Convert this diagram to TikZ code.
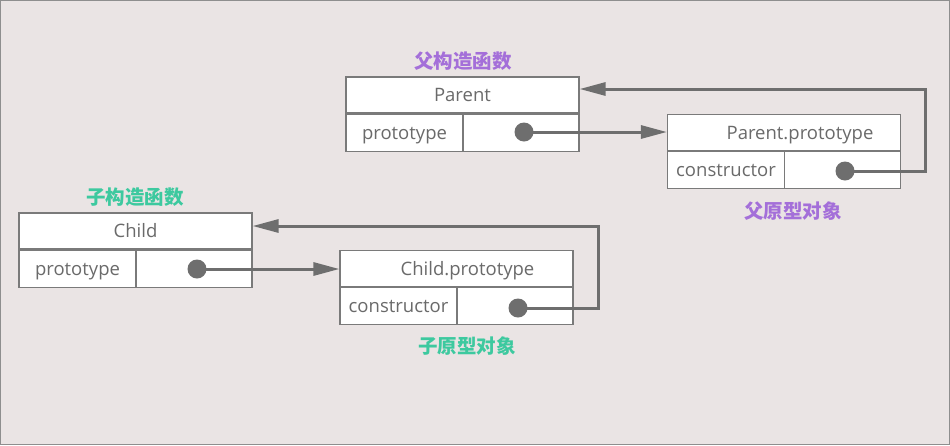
\documentclass[tikz,border=0pt]{standalone}
\usepackage{fontspec}
\setmainfont{Open Sans}
\newfontfamily\cjk{Noto Sans CJK SC}
\usetikzlibrary{arrows.meta,positioning}
\definecolor{bgcol}{HTML}{EAE4E4}
\definecolor{framecol}{HTML}{8E8E8E}
\definecolor{linecol}{HTML}{6E6E6E}
\definecolor{boxcol}{HTML}{7A7A7A}
\definecolor{txtcol}{HTML}{6A6A6A}
\definecolor{parentcol}{HTML}{A46FD9}
\definecolor{childcol}{HTML}{3DC99F}
\tikzset{
  head/.style={draw=boxcol, line width=1.2pt, fill=white, minimum width=233pt, minimum height=36pt,
    inner sep=0pt, text height=15pt, text depth=2pt, text=txtcol, font=\fontsize{18.5}{18.5}\selectfont},
  cellbox/.style={draw=boxcol, line width=1.2pt, fill=white, minimum height=37pt,
    inner sep=0pt, text height=15pt, text depth=2pt, text=txtcol, font=\fontsize{18.5}{18.5}\selectfont},
  dot/.style={circle, fill=linecol, minimum size=19pt, inner sep=0pt},
  conn/.style={draw=linecol, line width=3pt, -{Triangle[length=26pt,width=13pt]}},
  title/.style={font=\cjk\bfseries\fontsize{19.5}{19.5}\selectfont}
}
\begin{document}
\begin{tikzpicture}[x=1pt,y=-1pt]
\useasboundingbox (0,0) rectangle (950,445);
\draw [draw=framecol, fill=bgcol, line width=1pt] (0.5,0.5) rectangle (949.5,444.5);
% parent constructor
\node[head] (ph) at (462.5,95) {Parent};
\node[cellbox, minimum width=117pt, anchor=north west] (pl) at (ph.south west) {prototype};
\node[cellbox, minimum width=116pt, anchor=north east] (pr) at (ph.south east) {};
\node[title, text=parentcol] (pt) at (463,61) {父构造函数};
% parent prototype
\node[head, label={[xshift=16pt, text=txtcol, text height=15pt, text depth=2pt, font=\fontsize{18.5}{18.5}\selectfont]center:Parent.prototype}] (pph) at (784,132.5) {};
\node[cellbox, minimum width=117pt, anchor=north west] (ppl) at (pph.south west) {constructor};
\node[cellbox, minimum width=116pt, anchor=north east] (ppr) at (pph.south east) {};
\node[title, text=parentcol] (ppt) at (793,211) {父原型对象};
% child constructor
\node[head] (ch) at (135.5,231) {Child};
\node[cellbox, minimum width=117pt, anchor=north west] (cl) at (ch.south west) {prototype};
\node[cellbox, minimum width=116pt, anchor=north east] (cr) at (ch.south east) {};
\node[title, text=childcol] (ct) at (135,197) {子构造函数};
% child prototype
\node[head, label={[xshift=11pt, text=txtcol, text height=15pt, text depth=2pt, font=\fontsize{18.5}{18.5}\selectfont]center:Child.prototype}] (cph) at (456.5,268.5) {};
\node[cellbox, minimum width=117pt, anchor=north west] (cpl) at (cph.south west) {constructor};
\node[cellbox, minimum width=116pt, anchor=north east] (cpr) at (cph.south east) {};
\node[title, text=childcol] (cpt) at (467,346) {子原型对象};
% dots
\coordinate (pd) at (524,132);
\coordinate (ppd) at (845,171);
\coordinate (cd) at (197,269);
\coordinate (cpd) at (518,308);
\coordinate (pturn) at (925,89);
\coordinate (cturn) at (598,226);
% links
\draw[conn] (pd) -- (pph.west |- pd);
\draw[conn] (ppd) -| (pturn) -- (ph.east |- pturn);
\draw[conn] (cd) -- (cph.west |- cd);
\draw[conn] (cpd) -| (cturn) -- (ch.east |- cturn);
\node[dot] (pdot) at (pd) {};
\node[dot] (ppdot) at (ppd) {};
\node[dot] (cdot) at (cd) {};
\node[dot] (cpdot) at (cpd) {};
\end{tikzpicture}
\end{document}
